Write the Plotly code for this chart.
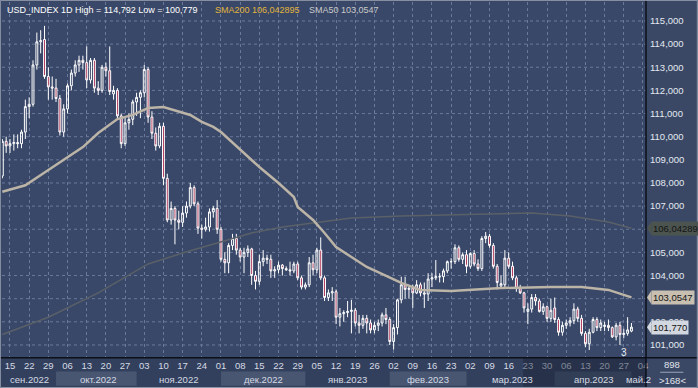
import pandas as pd
import plotly.graph_objects as go

# ---------------- data ----------------
dates = pd.bdate_range("2022-09-13", "2023-05-01")

opens = [108.3, 109.8, 109.6, 109.7, 109.75, 109.7, 110.2, 111.3, 111.4, 113.1,
         114.1, 114.2, 112.6, 112.15, 112.1, 111.65, 110.2, 111.2, 112.2, 112.75,
         113.1, 113.3, 113.2, 112.45, 113.3, 112.1, 112.0, 113.0, 112.85, 111.85,
         112.0, 110.9, 109.7, 110.6, 110.75, 111.5, 111.7, 111.9, 112.9, 110.85,
         110.15, 109.6, 110.45, 108.2, 106.4, 106.9, 106.4, 106.3, 106.7, 107.0,
         107.8, 107.1, 106.05, 106.0, 106.1, 106.75, 106.9, 106.0, 104.7, 104.55,
         105.3, 105.6, 105.1, 104.8, 105.0, 105.15, 104.0, 103.75, 104.6, 104.75,
         104.7, 104.2, 104.25, 104.45, 104.3, 104.25, 104.2, 104.5, 103.9, 103.5,
         103.6, 104.55, 104.25, 105.1, 103.9, 103.05, 103.25, 103.3, 102.2, 102.35,
         102.4, 102.45, 102.5, 101.95, 101.85, 102.15, 101.95, 101.65, 101.85, 101.95,
         102.3, 102.1, 101.15, 101.75, 102.95, 103.6, 103.4, 103.45, 103.25, 103.6,
         103.25, 103.2, 103.85, 103.9, 103.95, 103.95, 104.2, 104.6, 104.6, 105.2,
         104.7, 104.9, 104.4, 104.95, 104.5, 104.3, 105.6, 105.7, 105.3, 104.4,
         103.55, 103.6, 104.75, 104.4, 103.9, 103.45, 103.25, 102.45, 102.55, 103.05,
         102.9, 102.45, 102.65, 102.15, 102.6, 102.1, 101.55, 101.85, 101.95, 102.05,
         102.55, 102.15, 101.5, 101.05, 101.55, 102.1, 101.75, 101.8, 101.85, 101.75,
         101.35, 101.85, 101.45, 101.5, 101.6]
highs = [109.9, 110.0, 109.9, 110.1, 110.1, 110.3, 111.6, 111.7, 113.3, 114.5,
         114.6, 114.79, 113.0, 112.6, 112.5, 111.8, 111.4, 112.3, 112.9, 113.3,
         113.5, 113.5, 113.9, 113.4, 113.4, 112.4, 113.1, 113.2, 113.9, 112.2,
         112.1, 111.0, 110.8, 111.0, 111.6, 111.9, 112.0, 113.1, 113.0, 111.1,
         110.4, 110.6, 110.6, 108.4, 107.2, 107.0, 106.8, 107.0, 107.2, 108.0,
         107.9, 107.2, 106.2, 106.5, 106.9, 107.0, 107.26, 106.1, 105.0, 105.4,
         105.8, 105.8, 105.2, 105.2, 105.3, 105.2, 104.2, 104.9, 105.1, 104.9,
         104.9, 104.4, 104.6, 104.5, 104.4, 104.6, 104.6, 104.6, 104.0, 103.7,
         104.8, 104.9, 105.2, 105.65, 104.0, 103.4, 103.5, 103.4, 102.6, 102.5,
         102.9, 102.95, 102.6, 102.3, 102.3, 102.3, 102.1, 102.0, 102.1, 102.4,
         102.6, 102.2, 101.9, 103.0, 103.95, 103.95, 103.6, 103.6, 103.8, 103.7,
         103.7, 104.1, 104.1, 104.67, 104.1, 104.3, 104.65, 104.75, 105.35, 105.3,
         105.0, 105.1, 105.0, 105.1, 104.7, 105.7, 105.88, 105.8, 105.4, 104.5,
         104.0, 105.1, 105.0, 104.6, 104.0, 103.6, 103.3, 102.8, 103.2, 103.2,
         103.0, 102.8, 102.7, 103.0, 103.05, 102.2, 102.0, 102.1, 102.2, 102.8,
         102.65, 102.3, 101.6, 101.7, 102.2, 102.2, 102.1, 102.0, 102.1, 101.8,
         101.95, 102.0, 101.7, 102.2, 101.95]
lows = [108.2, 109.3, 109.3, 109.4, 109.5, 109.5, 109.9, 110.8, 111.3, 112.9,
        113.6, 112.5, 111.6, 111.6, 111.5, 110.05, 110.0, 111.0, 112.0, 112.6,
        112.8, 112.9, 112.1, 112.3, 111.9, 111.8, 111.9, 112.6, 111.8, 111.6,
        110.8, 109.5, 109.6, 110.3, 110.5, 110.9, 110.8, 111.7, 110.6, 109.9,
        109.4, 109.5, 107.9, 106.3, 106.2, 105.35, 106.0, 106.1, 106.5, 106.9,
        107.0, 105.8, 105.6, 105.9, 105.9, 106.5, 105.8, 104.6, 104.1, 104.1,
        105.1, 104.9, 104.6, 104.1, 104.8, 103.6, 103.4, 103.6, 104.4, 104.5,
        103.9, 103.9, 104.1, 104.0, 104.2, 104.0, 104.1, 103.8, 103.4, 103.4,
        103.5, 104.0, 104.1, 103.8, 102.9, 102.9, 102.9, 101.9, 101.8, 102.0,
        102.2, 101.5, 101.8, 101.5, 101.7, 101.5, 101.5, 101.5, 101.6, 101.8,
        101.9, 101.0, 100.8, 101.45, 102.8, 103.0, 103.0, 102.6, 103.2, 103.1,
        102.6, 102.9, 103.5, 103.8, 103.7, 103.7, 104.1, 104.3, 104.5, 104.6,
        104.5, 104.1, 104.3, 104.4, 104.2, 104.2, 105.4, 105.2, 104.3, 103.4,
        103.5, 103.5, 104.3, 103.8, 103.3, 103.2, 102.4, 101.9, 102.4, 102.7,
        102.4, 102.3, 102.0, 102.0, 101.95, 101.4, 101.4, 101.7, 101.8, 101.9,
        102.0, 101.4, 100.9, 100.78, 101.5, 101.6, 101.6, 101.6, 101.6, 101.3,
        101.2, 101.0, 101.3, 101.4, 101.55]
closes = [109.8, 109.6, 109.7, 109.75, 109.7, 110.2, 111.3, 111.4, 113.1, 114.1,
          114.15, 112.6, 112.15, 112.1, 111.65, 110.2, 111.2, 112.2, 112.75, 113.1,
          113.3, 113.2, 112.45, 113.3, 112.1, 112.0, 113.0, 112.85, 111.95, 112.0,
          110.9, 109.7, 110.6, 110.75, 111.5, 111.7, 111.9, 112.9, 110.85, 110.15,
          109.6, 110.45, 108.2, 106.4, 106.9, 106.4, 106.3, 106.7, 107.0, 107.8,
          107.1, 106.05, 106.0, 106.1, 106.75, 106.9, 106.0, 104.7, 104.55, 105.3,
          105.6, 105.1, 104.8, 105.0, 105.15, 104.0, 103.75, 104.6, 104.75, 104.7,
          104.2, 104.25, 104.45, 104.3, 104.25, 104.2, 104.5, 103.9, 103.5, 103.6,
          104.55, 104.25, 105.1, 103.9, 103.05, 103.25, 103.3, 102.2, 102.35, 102.4,
          102.45, 102.5, 101.95, 101.85, 102.15, 101.95, 101.65, 101.85, 101.95, 102.3,
          102.1, 101.15, 101.75, 102.95, 103.6, 103.4, 103.45, 103.25, 103.6, 103.25,
          103.2, 103.85, 103.9, 103.95, 103.95, 104.2, 104.6, 104.6, 105.2, 104.7,
          104.9, 104.4, 104.95, 104.5, 104.3, 105.6, 105.7, 105.3, 104.4, 103.7,
          103.65, 104.75, 104.4, 103.9, 103.45, 103.25, 102.6, 102.55, 103.05, 102.9,
          102.45, 102.65, 102.15, 102.5, 102.1, 101.55, 101.85, 101.95, 102.05, 102.55,
          102.15, 101.5, 101.05, 101.55, 102.1, 101.75, 101.95, 101.85, 101.75, 101.35,
          101.85, 101.45, 101.5, 101.65, 101.77]

sma50_dates = ["2022-09-13", "2022-09-21", "2022-09-29", "2022-10-05", "2022-10-12",
               "2022-10-18", "2022-10-25", "2022-10-31", "2022-11-04", "2022-11-10",
               "2022-11-16", "2022-11-21", "2022-11-24", "2022-11-29", "2022-12-01",
               "2022-12-08", "2022-12-15", "2022-12-22", "2022-12-28", "2022-12-29",
               "2023-01-04", "2023-01-09", "2023-01-12", "2023-01-18", "2023-01-24",
               "2023-02-06", "2023-02-13", "2023-02-23", "2023-03-14", "2023-03-31",
               "2023-04-12", "2023-04-21", "2023-04-28", "2023-05-01"]
sma50_vals = [107.62, 107.9, 108.56, 109.0, 109.55, 110.16, 110.76, 110.94, 111.24, 111.28,
              111.07, 110.94, 110.64, 110.42, 110.2, 109.43, 108.69, 108.0, 107.39, 106.96,
              106.4, 105.84, 105.23, 104.8, 104.37, 103.68, 103.38, 103.33, 103.46, 103.5,
              103.5, 103.38, 103.1, 103.0547]

sma200_dates = ["2022-09-13", "2022-09-29", "2022-10-18", "2022-11-04", "2022-11-17",
                "2022-11-30", "2022-12-13", "2022-12-23", "2023-01-05", "2023-01-18",
                "2023-02-06", "2023-02-23", "2023-03-14", "2023-03-24", "2023-04-07",
                "2023-04-21", "2023-05-01"]
sma200_vals = [101.45, 102.2, 103.25, 104.5, 104.97, 105.41, 105.84, 106.10, 106.31, 106.49,
               106.57, 106.62, 106.70, 106.70, 106.57, 106.31, 106.042895]

# price labels (103 and 106 are hidden behind the value tags in the original)
price_ticks = [101, 102, 104, 105, 107, 108, 109, 110, 111, 112, 113, 114, 115]
price_ticktext = [f"{p},000" for p in price_ticks]
grid_prices = list(range(101, 116))
week_ticks = pd.date_range("2022-09-15", "2023-05-04", freq="7D")
week_ticktext = [d.strftime("%d") for d in week_ticks]

month_starts = ["2022-09-13", "2022-10-03", "2022-11-01", "2022-12-01", "2023-01-02",
                "2023-02-01", "2023-03-01", "2023-04-03", "2023-05-01"]
month_names = ["сен.2022", "окт.2022", "ноя.2022", "дек.2022", "янв.2023",
               "фев.2023", "мар.2023", "апр.2023", "май.2"]

title_main = "USD_INDEX 1D High = 114,792 Low = 100,779"
title_sma200 = "SMA200 106,042895"
title_sma50 = "SMA50 103,0547"
last_price = 101.77

# ---------------- style ----------------
BG = "#394868"
GRID = "#6a7999"
FONT = "Arial, Liberation Sans, sans-serif"
X_RANGE = ["2022-09-12 22:00", "2023-05-04 19:00"]
Y_RANGE = [100.48, 115.82]

fig = go.Figure()
fig.add_trace(go.Candlestick(
    x=dates, open=opens, high=highs, low=lows, close=closes,
    increasing=dict(line=dict(color="#ffffff", width=1), fillcolor="rgba(0,0,0,0)"),
    decreasing=dict(line=dict(color="#ffffff", width=1), fillcolor="#a8294f"),
    whiskerwidth=0, hoverinfo="skip", showlegend=False))
fig.add_trace(go.Scatter(x=sma200_dates, y=sma200_vals, mode="lines",
                         line=dict(color="#5a6068", width=1.5), hoverinfo="skip"))
fig.add_trace(go.Scatter(x=sma50_dates, y=sma50_vals, mode="lines",
                         line=dict(color="#bbb4a7", width=2.5), hoverinfo="skip"))

shapes = []
# horizontal dashed grid at every price level
for p in grid_prices:
    shapes.append(dict(type="line", xref="paper", yref="y", x0=0, x1=1, y0=p, y1=p,
                       line=dict(color=GRID, width=1, dash="3px,3px"), layer="below"))
# bottom axis panel
shapes.append(dict(type="rect", xref="paper", yref="paper", x0=-0.01, x1=1.0, y0=-0.09, y1=0,
                   fillcolor="#33405d", line=dict(width=0), layer="below"))
# month bands (light ones)
for i in range(len(month_starts) - 1):
    if i % 2 == 1:
        shapes.append(dict(type="rect", xref="x", yref="paper",
                           x0=month_starts[i], x1=month_starts[i + 1], y0=-0.081, y1=-0.041,
                           fillcolor="#485672", line=dict(width=0), layer="below"))
# dimmed tail of the time axis
shapes.append(dict(type="rect", xref="x", yref="paper", x0="2023-03-21 18:00", x1=X_RANGE[1],
                   y0=-0.083, y1=-0.003, fillcolor="rgba(25,33,52,0.45)",
                   line=dict(width=0), layer="above"))
# separators
shapes.append(dict(type="line", xref="paper", yref="paper", x0=1.0, x1=1.0, y0=-0.09, y1=1.01,
                   line=dict(color="#0c0f18", width=1.5)))
shapes.append(dict(type="line", xref="paper", yref="paper", x0=-0.01, x1=1.085, y0=-0.002, y1=-0.002,
                   line=dict(color="#0c0f18", width=1.5)))
# underline in corner
shapes.append(dict(type="line", xref="paper", yref="paper", x0=1.022, x1=1.058, y0=-0.043, y1=-0.043,
                   line=dict(color="#9aa4b8", width=1)))
# outer frame
shapes.append(dict(type="rect", xref="paper", yref="paper", x0=-0.0025, x1=1.0797, y0=-0.086, y1=1.0045,
                   line=dict(color="#8e97aa", width=1), fillcolor="rgba(0,0,0,0)"))

annotations = []
# title texts
annotations.append(dict(text=title_main, xref="paper", yref="paper", x=0.0045, y=0.978,
                        xanchor="left", yanchor="middle", showarrow=False,
                        font=dict(color="#ffffff", size=9, family=FONT)))
annotations.append(dict(text=title_sma200, xref="paper", yref="paper", x=0.3276, y=0.978,
                        xanchor="left", yanchor="middle", showarrow=False,
                        font=dict(color="#e0b43c", size=9, family=FONT)))
annotations.append(dict(text=title_sma50, xref="paper", yref="paper", x=0.4736, y=0.978,
                        xanchor="left", yanchor="middle", showarrow=False,
                        font=dict(color="#c9c9c9", size=9, family=FONT)))
# month labels
for i, name in enumerate(month_names):
    if i < len(month_starts) - 1:
        span = pd.bdate_range(month_starts[i], month_starts[i + 1])
        mid = span[len(span) // 2]
        annotations.append(dict(text=name, xref="x", yref="paper", x=mid, y=-0.062,
                                xanchor="center", yanchor="middle", showarrow=False,
                                font=dict(color="#d5dae4", size=9.5, family=FONT)))
    else:
        annotations.append(dict(text=name, xref="x", yref="paper", x="2023-04-27", y=-0.062,
                                xanchor="left", yanchor="middle", showarrow=False,
                                font=dict(color="#d5dae4", size=9.5, family=FONT)))
# price tags on the right axis
tags = [(sma200_vals[-1], "106,04289", "#4c544f", "#141414"),
        (sma50_vals[-1], "103,0547", "#c8bfb1", "#141414"),
        (last_price, "101,770", "#d3d7df", "#141414")]
for val, txt, bg, fc in tags:
    annotations.append(dict(text=txt, xref="paper", yref="y", x=1.0075, y=val,
                            xanchor="left", yanchor="middle", showarrow=False,
                            bgcolor=bg, borderpad=1,
                            font=dict(color=fc, size=9.5, family=FONT)))
    shapes.append(dict(type="path", xref="paper", yref="y",
                       path=f"M 1.0015,{val} L 1.0085,{val + 0.3} L 1.0085,{val - 0.3} Z",
                       fillcolor=bg, line=dict(width=0), layer="above"))
# marker and corner texts
annotations.append(dict(text="3", xref="x", yref="y", x="2023-04-27", y=100.68,
                        xanchor="center", yanchor="middle", showarrow=False,
                        font=dict(color="#e8ecf4", size=10, family=FONT)))
annotations.append(dict(text="898", xref="paper", yref="paper", x=1.0404, y=-0.022,
                        xanchor="center", yanchor="middle", showarrow=False,
                        font=dict(color="#e0e4ec", size=9.5, family=FONT)))
annotations.append(dict(text="&gt;168&lt;", xref="paper", yref="paper", x=1.0404, y=-0.065,
                        xanchor="center", yanchor="middle", showarrow=False,
                        font=dict(color="#e0e4ec", size=9.5, family=FONT)))

fig.update_layout(
    width=698, height=388,
    margin=dict(l=2, r=52, t=2, b=31),
    paper_bgcolor="#3a4866", plot_bgcolor=BG,
    showlegend=False,
    font=dict(family=FONT, size=10, color="#d5dae4"),
    shapes=shapes, annotations=annotations,
    xaxis=dict(type="date", rangebreaks=[dict(bounds=["sat", "mon"])],
               range=X_RANGE, tickvals=week_ticks, ticktext=week_ticktext,
               tickfont=dict(size=9.5, color="#d5dae4", family=FONT),
               showgrid=True, gridcolor=GRID, griddash="3px,3px", gridwidth=1,
               zeroline=False, showline=False, ticks="", ticklabelstandoff=1,
               rangeslider=dict(visible=False), fixedrange=True),
    yaxis=dict(side="right", range=Y_RANGE, tickvals=price_ticks, ticktext=price_ticktext,
               tickfont=dict(size=9.5, color="#e4e8f0", family=FONT),
               showgrid=False, zeroline=False, showline=False, ticks="",
               ticklabelstandoff=3, fixedrange=True),
)

fig.write_html("out.html", config={"displayModeBar": False},
               post_script="document.body.style.margin='0';document.body.style.overflow='hidden';")
